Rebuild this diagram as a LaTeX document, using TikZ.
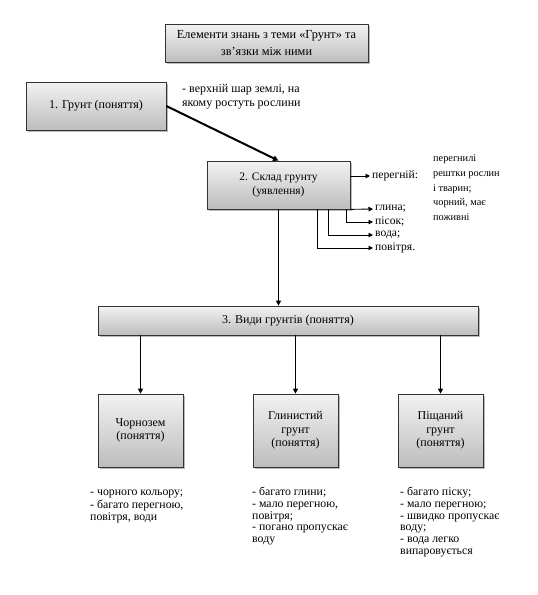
\documentclass[tikz,border=0pt]{standalone}
\usepackage{fontspec}
\setmainfont{Liberation Serif}
\usetikzlibrary{arrows.meta,shadows}
\begin{document}
\begin{tikzpicture}[x=1pt,y=-1pt,
 gbox/.style={draw=black!80, line width=0.7pt, top color=white!95!black, bottom color=white!74!black,
   drop shadow={shadow xshift=1.5pt,shadow yshift=-1.5pt,opacity=0.45,fill=black!60},
   align=center, inner sep=2pt, font=\fontsize{12}{14}\selectfont},
 txt/.style={inner sep=0pt, align=left, font=\fontsize{11.8}{11.7}\selectfont},
 lab/.style={inner sep=0pt, font=\fontsize{11.6}{12}\selectfont},
 big/.style={-{Triangle[width=5.5pt,length=5.5pt]}, line width=2pt},
 mid/.style={-{Triangle[width=5pt,length=5pt]}, line width=1.5pt},
 sml/.style={-{Triangle[width=4.5pt,length=4.5pt]}, line width=0.9pt, shorten >=2pt},
]
\useasboundingbox (0,0) rectangle (538,595);

\node[gbox, minimum width=203pt, minimum height=38pt, font=\fontsize{12.3}{17}\selectfont] (title) at (266.5,43.5) {Елементи знань з теми «Грунт» та\\зв’язки між ними};

\node[gbox, minimum width=140pt, minimum height=48pt] (b1) at (96,106) {1. Грунт (поняття)};
\node[txt, anchor=north west, font=\fontsize{12}{14}\selectfont] (d1) at (182,82) {\strut- верхній шар землі, на\\якому ростуть рослини};

\node[gbox, minimum width=143pt, minimum height=48pt, font=\fontsize{11.5}{14}\selectfont] (b2) at (278.5,185) {2. Склад грунту\\(уявлення)};

\node[lab, anchor=west] (l1) at (372,176) {перегній:};
\node[lab, anchor=west] (l2) at (375,209) {глина;};
\node[lab, anchor=west] (l3) at (375,222) {пісок;};
\node[lab, anchor=west] (l4) at (375,235) {вода;};
\node[lab, anchor=west] (l5) at (375,248) {повітря.};

\node[txt, anchor=north west, font=\fontsize{10.3}{14.8}\selectfont] (d2) at (433,151) {\strut перегнилі\\рештки рослин\\і тварин;\\чорний, має\\поживні};

\node[gbox, minimum width=380pt, minimum height=29pt] (b3) at (288,320.5) {3. Види грунтів (поняття)};

\node[gbox, minimum width=85pt, minimum height=73pt, font=\fontsize{12}{12.5}\selectfont] (c1) at (140.5,430.5) {Чорнозем\\(поняття)};
\node[gbox, minimum width=85pt, minimum height=73pt, font=\fontsize{12}{13.5}\selectfont] (c2) at (295.5,430.5) {Глинистий\\грунт\\(поняття)};
\node[gbox, minimum width=85pt, minimum height=73pt, font=\fontsize{12}{13.5}\selectfont] (c3) at (440.5,430.5) {Піщаний\\грунт\\(поняття)};

\node[txt, anchor=north west] (t1) at (90,487) {\strut- чорного кольору;\\- багато перегною,\\повітря, води};
\node[txt, anchor=north west] (t2) at (252,487) {\strut- багато глини;\\- мало перегною,\\повітря;\\- погано пропускає\\воду};
\node[txt, anchor=north west] (t3) at (400,487) {\strut- багато піску;\\- мало перегною;\\- швидко пропускає\\воду;\\- вода легко\\випаровується};

\draw[big] (b1.east) -- (b2.north);
\draw[mid] (b2.south) -- (b2.south |- b3.north);
\draw[mid] (b3.south -| c1.north) -- (c1.north);
\draw[mid] (b3.south -| c2.north) -- (c2.north);
\draw[mid] (b3.south -| c3.north) -- (c3.north);

\draw[sml] (b2.east |- l1.west) -- (l1.west);
\draw[sml] (b2.south east) -- (l2.west);
\draw[sml] ([xshift=-4pt]b2.south east) |- (l3.west);
\draw[sml] ([xshift=-22pt]b2.south east) |- (l4.west);
\draw[sml] ([xshift=-33pt]b2.south east) |- (l5.west);
\end{tikzpicture}
\end{document}
